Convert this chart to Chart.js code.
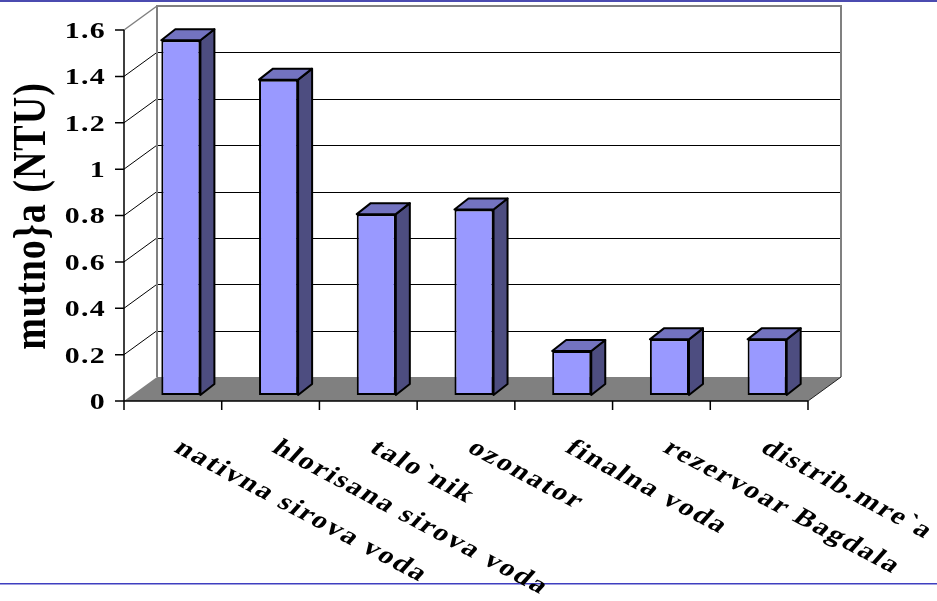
<!DOCTYPE html>
<html>
<head>
<meta charset="utf-8">
<script src="https://cdn.jsdelivr.net/npm/chart.js@4.4.1/dist/chart.umd.min.js"></script>
<style>
  html, body { margin: 0; padding: 0; background: #fff; }
  canvas { display: block; }
</style>
</head>
<body>
<canvas id="turbidity" width="937" height="601"></canvas>
<script>
const categories = ['nativna sirova voda', 'hlorisana sirova voda', 'talo`nik', 'ozonator',
                    'finalna voda', 'rezervoar Bagdala', 'distrib.mre`a'];
const turbidity = [1.53, 1.36, 0.78, 0.80, 0.19, 0.24, 0.24];
const yTicks = [0, 0.2, 0.4, 0.6, 0.8, 1, 1.2, 1.4, 1.6];
const yTitle = 'mutno}a (NTU)';

// oblique projection: the scales live in the plane of the bar fronts,
// the axis plane sits in front of it and the back wall behind it
const FRONT = { dx: -8, dy: 6 };
const BACK = { dx: 25, dy: -18 };
const BAR_DEPTH = { dx: 14, dy: -11 };
const SERIF = '"Liberation Serif", serif';
const WIDE = 1.3; // text is drawn a little wider than the font

const scene3d = {
    id: 'scene3d',
    beforeDatasetsDraw(chart) {
        const ctx = chart.ctx;
        const xs = chart.scales.x, ys = chart.scales.y;
        const area = chart.chartArea;
        const fx0 = area.left + FRONT.dx, fx1 = area.right + FRONT.dx;
        const bx0 = area.left + BACK.dx, bx1 = area.right + BACK.dx;
        const fy = v => ys.getPixelForValue(v) + FRONT.dy;
        const by = v => ys.getPixelForValue(v) + BACK.dy;
        const top = yTicks[yTicks.length - 1];

        ctx.save();
        ctx.fillStyle = '#fff';
        ctx.fillRect(0, 0, chart.width, chart.height);

        // slide rules
        ctx.fillStyle = '#4b4bb0';
        ctx.fillRect(0, 0, chart.width, 2);
        ctx.fillStyle = '#3f3fc0';
        ctx.fillRect(0, 583, chart.width, 1.5);

        // back wall gridlines
        ctx.strokeStyle = '#000';
        ctx.lineWidth = 1;
        yTicks.slice(1, -1).forEach(v => {
            const y = Math.round(by(v)) + 0.5;
            ctx.beginPath();
            ctx.moveTo(bx0, y);
            ctx.lineTo(bx1, y);
            ctx.stroke();
        });

        // left wall lines
        yTicks.slice(1).forEach(v => {
            ctx.strokeStyle = v === top ? '#808080' : '#000';
            ctx.lineWidth = v === top ? 1.5 : 1;
            ctx.beginPath();
            ctx.moveTo(fx0, fy(v));
            ctx.lineTo(bx0, by(v));
            ctx.stroke();
        });

        // back wall frame
        ctx.strokeStyle = '#808080';
        ctx.lineWidth = 2;
        ctx.beginPath();
        ctx.moveTo(bx0, by(0));
        ctx.lineTo(bx0, by(top));
        ctx.lineTo(bx1, by(top));
        ctx.lineTo(bx1, by(0));
        ctx.stroke();

        // floor
        ctx.fillStyle = '#808080';
        ctx.beginPath();
        ctx.moveTo(fx0, fy(0));
        ctx.lineTo(fx1, fy(0));
        ctx.lineTo(bx1, by(0));
        ctx.lineTo(bx0, by(0));
        ctx.closePath();
        ctx.fill();
        ctx.strokeStyle = '#202020';
        ctx.lineWidth = 1;
        ctx.beginPath();
        ctx.moveTo(fx1, fy(0));
        ctx.lineTo(bx1, by(0));
        ctx.stroke();

        // front axes with tick marks
        ctx.strokeStyle = '#000';
        ctx.lineWidth = 1.5;
        ctx.beginPath();
        ctx.moveTo(fx0, fy(top));
        ctx.lineTo(fx0, fy(0) + 9);
        ctx.moveTo(fx0, fy(0));
        ctx.lineTo(fx1, fy(0));
        yTicks.forEach(v => {
            ctx.moveTo(fx0 - 9, fy(v));
            ctx.lineTo(fx0, fy(v));
        });
        for (let i = 0; i <= categories.length; i++) {
            const x = fx0 + (fx1 - fx0) * i / categories.length;
            ctx.moveTo(x, fy(0));
            ctx.lineTo(x, fy(0) + 9);
        }
        ctx.stroke();

        // value labels
        ctx.fillStyle = '#000';
        ctx.font = 'bold 23px ' + SERIF;
        ctx.letterSpacing = '1px';
        ctx.textAlign = 'right';
        ctx.textBaseline = 'middle';
        yTicks.forEach(v => {
            ctx.save();
            ctx.translate(fx0 - 18, fy(v) + 2);
            ctx.scale(WIDE, 1);
            ctx.fillText(String(v), 0, 0);
            ctx.restore();
        });

        // axis title
        ctx.save();
        ctx.font = 'bold 38px ' + SERIF;
        ctx.letterSpacing = '1px';
        ctx.textAlign = 'center';
        ctx.textBaseline = 'alphabetic';
        ctx.translate(45, 216);
        ctx.rotate(-Math.PI / 2);
        ctx.scale(1, 1.2);
        ctx.fillText(yTitle, 0, 0);
        ctx.restore();

        // category labels, slanted down to the right at ~28 degrees on screen
        const slant = Math.atan(Math.tan(28 * Math.PI / 180) * WIDE);
        ctx.font = 'bold 24px ' + SERIF;
        ctx.letterSpacing = '1.6px';
        ctx.textAlign = 'left';
        ctx.textBaseline = 'alphabetic';
        categories.forEach((c, i) => {
            ctx.save();
            ctx.translate(xs.getPixelForValue(i) + FRONT.dx, 451);
            ctx.scale(WIDE, 1);
            ctx.rotate(slant);
            ctx.fillText(c, 0, 0);
            ctx.restore();
        });
        ctx.restore();
    },
    afterDatasetsDraw(chart) {
        const ctx = chart.ctx;
        const d = BAR_DEPTH;
        ctx.save();
        ctx.strokeStyle = '#000';
        ctx.lineWidth = 2;
        ctx.lineJoin = 'round';
        chart.getDatasetMeta(0).data.forEach(bar => {
            const p = bar.getProps(['x', 'y', 'base', 'width'], true);
            const l = p.x - p.width / 2, r = p.x + p.width / 2;
            // side
            ctx.fillStyle = '#4d4d80';
            ctx.beginPath();
            ctx.moveTo(r, p.base);
            ctx.lineTo(r + d.dx, p.base + d.dy);
            ctx.lineTo(r + d.dx, p.y + d.dy);
            ctx.lineTo(r, p.y);
            ctx.closePath();
            ctx.fill();
            ctx.stroke();
            // top
            ctx.fillStyle = '#7373c0';
            ctx.beginPath();
            ctx.moveTo(l, p.y);
            ctx.lineTo(l + d.dx, p.y + d.dy);
            ctx.lineTo(r + d.dx, p.y + d.dy);
            ctx.lineTo(r, p.y);
            ctx.closePath();
            ctx.fill();
            ctx.stroke();
        });
        ctx.restore();
    }
};

function drawChart() {
    new Chart(document.getElementById('turbidity'), {
        type: 'bar',
        data: {
            labels: categories,
            datasets: [{
                data: turbidity,
                backgroundColor: '#9999ff',
                borderColor: '#000',
                borderWidth: 2,
                borderSkipped: false,
                barPercentage: 0.4,
                categoryPercentage: 1
            }]
        },
        options: {
            responsive: false,
            animation: false,
            layout: { padding: { left: 132, right: 121, top: 24, bottom: 206 } },
            plugins: { legend: { display: false }, tooltip: { enabled: false } },
            scales: {
                x: { display: false },
                y: { display: false, min: 0, max: 1.6 }
            }
        },
        plugins: [scene3d]
    });
}

document.fonts.load('bold 24px "Liberation Serif"').then(drawChart, drawChart);
</script>
</body>
</html>
